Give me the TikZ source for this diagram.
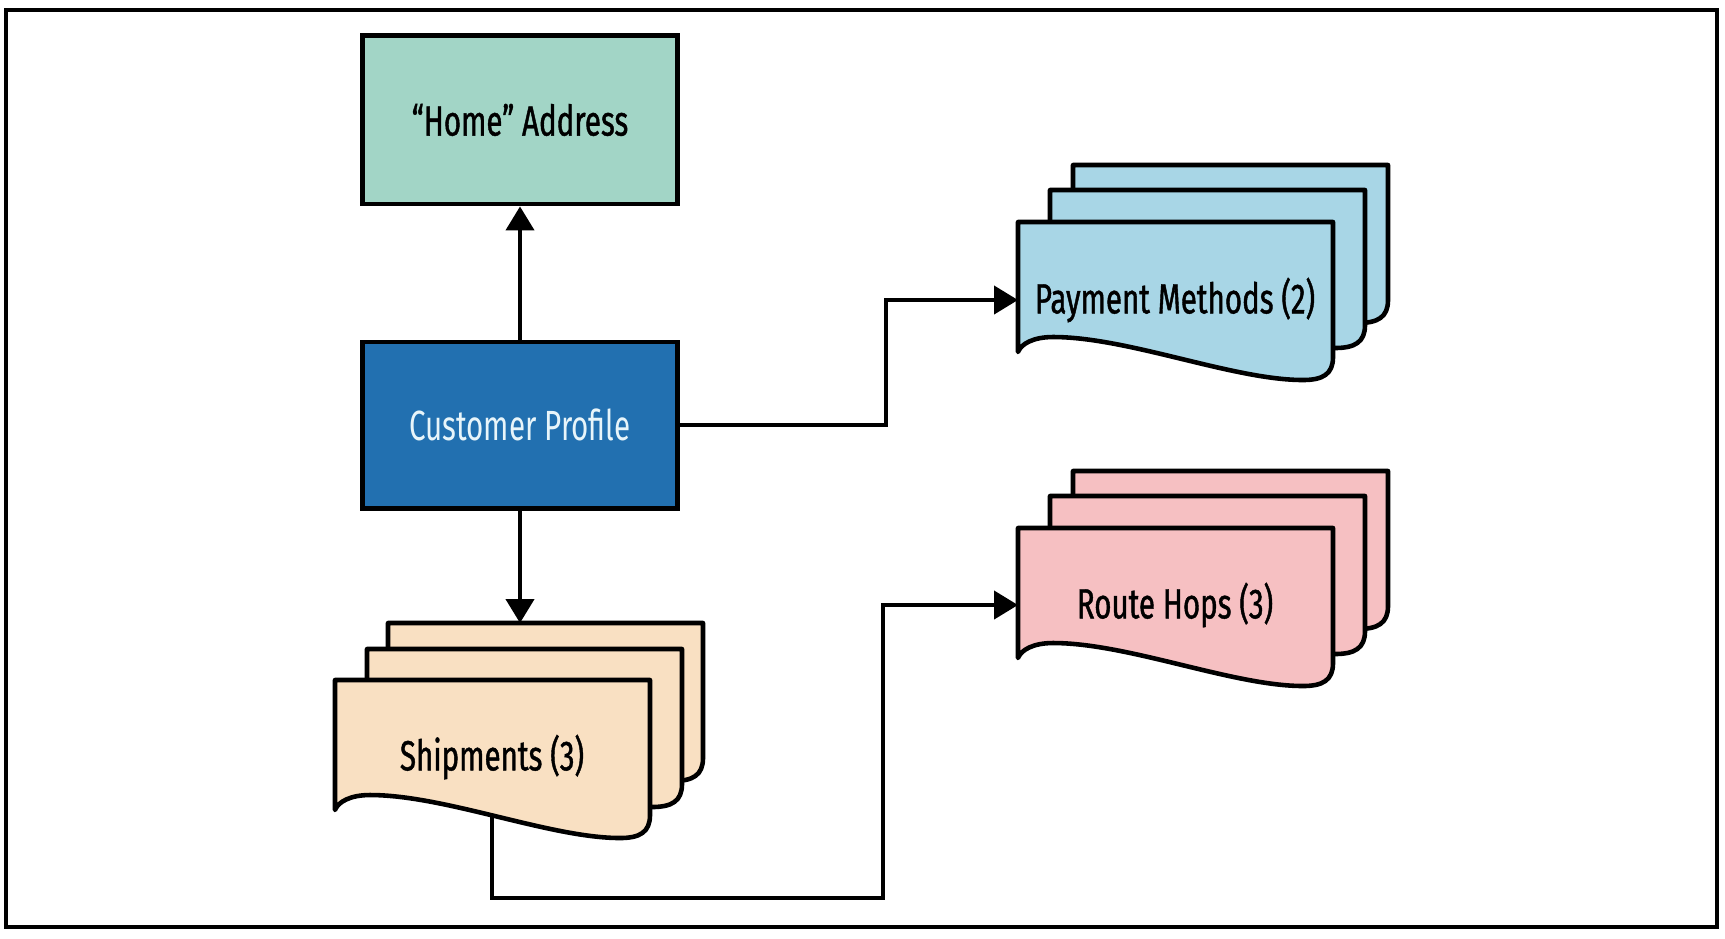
\documentclass[tikz,border=0pt]{standalone}
\usepackage{fontspec}
\setmainfont[FakeStretch=0.7]{Fira Sans}
\newfontfamily\darkfont[FakeStretch=0.7,FakeBold=1]{Fira Sans}
\usepackage{tikz}
\usetikzlibrary{positioning}
\usetikzlibrary{arrows.meta}

\definecolor{homegreen}{HTML}{A2D5C6}
\definecolor{cpblue}{HTML}{2270B0}
\definecolor{cptext}{HTML}{E8F5FA}
\definecolor{paycol}{HTML}{A8D6E6}
\definecolor{routecol}{HTML}{F6C0C2}
\definecolor{shipcol}{HTML}{F9E0C2}

\tikzset{
  box/.style={draw=black, line width=1.4pt, minimum width=3.15cm, minimum height=1.66cm, font=\fontsize{12}{14}\selectfont},
  doc/.style={draw=black, line width=1.3pt, line join=round},
  doctext/.style={font=\darkfont\fontsize{12}{14}\selectfont},
  conn/.style={line width=1.2pt},
  arr/.style={conn, -{Triangle[length=2.4mm,width=2.8mm]}}
}

\begin{document}
\begin{tikzpicture}[x=0.01cm, y=-0.01cm]
  \useasboundingbox (0,0) rectangle (1725,938);
  \draw[line width=0.9pt] (6,10) rectangle (1717,927);

  \node[box, fill=cpblue, text=cptext] (cp) at (520,425) {Customer Profile};
  \node[box, fill=homegreen, minimum height=1.68cm, above=1.33cm of cp, font=\darkfont\fontsize{12}{14}\selectfont] (home) {“Home” Address};

  % payment methods
  \def\px{1018}; \def\py{222};
  \foreach \dx/\dy in {55/-57, 32/-32, 0/0} {
    \draw[doc, fill=paycol, shift={(\px+\dx,\py+\dy)}] (0,0) -- (315,0) -- (315,135)
      .. controls (315,152) and (305,158) .. (285,158)
      .. controls (215,158) and (110,115) .. (35,115)
      .. controls (15,115) and (3,122) .. (0,130) -- cycle;
  }
  \node[doctext] (pay) at (\px+157,\py+78) {Payment Methods (2)};
  \coordinate (payin) at (\px,\py+78);

  % route hops
  \def\px{1018}; \def\py{528};
  \foreach \dx/\dy in {55/-57, 32/-32, 0/0} {
    \draw[doc, fill=routecol, shift={(\px+\dx,\py+\dy)}] (0,0) -- (315,0) -- (315,135)
      .. controls (315,152) and (305,158) .. (285,158)
      .. controls (215,158) and (110,115) .. (35,115)
      .. controls (15,115) and (3,122) .. (0,130) -- cycle;
  }
  \node[doctext] (route) at (\px+157,\py+77) {Route Hops (3)};
  \coordinate (routein) at (\px,\py+77);

  % shipments
  \def\px{335}; \def\py{680};
  \foreach \dx/\dy in {53/-57, 32/-31, 0/0} {
    \draw[doc, fill=shipcol, shift={(\px+\dx,\py+\dy)}] (0,0) -- (315,0) -- (315,135)
      .. controls (315,152) and (305,158) .. (285,158)
      .. controls (215,158) and (110,115) .. (35,115)
      .. controls (15,115) and (3,122) .. (0,130) -- cycle;
  }
  \node[doctext] (ship) at (\px+157,\py+77) {Shipments (3)};
  \coordinate (shipback) at (\px+53,\py-57);
  \coordinate (shipbot) at (\px+157,\py+136);

  \draw[arr] (cp.north) -- (home.south);
  \draw[arr] (cp.south) -- (cp.south |- shipback);
  \draw[arr] (cp.east) -- ++(206,0) |- (payin);
  \draw[arr] (shipbot) |- ++(391,82) |- (routein);
\end{tikzpicture}
\end{document}
